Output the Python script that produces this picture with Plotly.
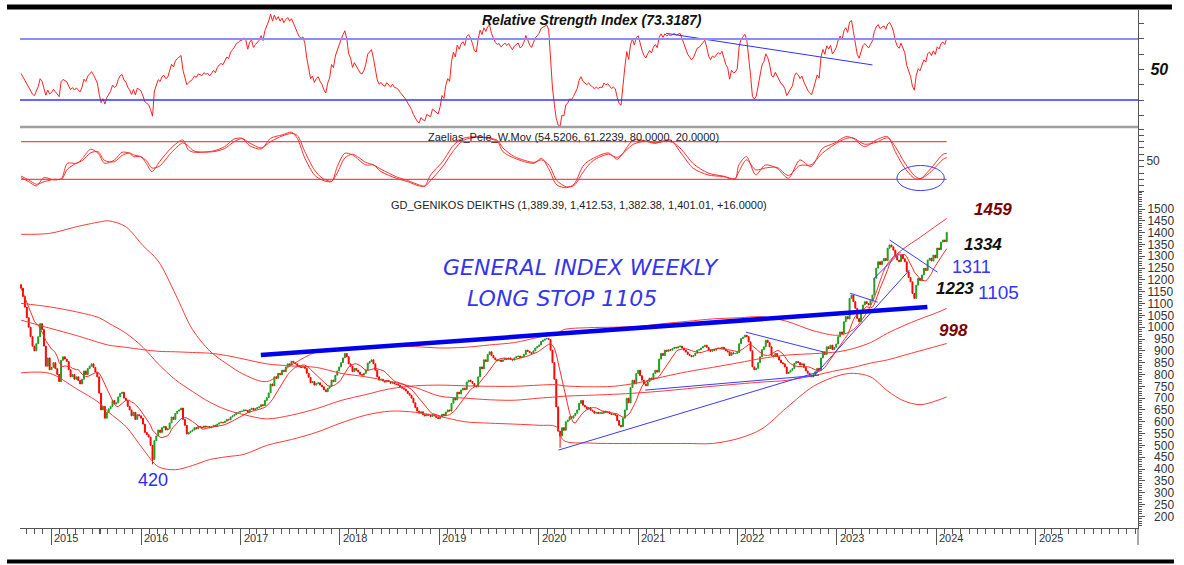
import pandas as pd
import plotly.graph_objects as go

# ---------------- DATA ----------------
seg_starts = ["2014-09-12", "2015-01-02", "2015-08-07", "2016-01-01", "2017-01-06", "2018-01-05",
              "2019-01-04", "2020-01-03", "2021-01-01", "2022-01-07", "2023-01-06", "2024-01-05"]
closes_2014 = [1165, 1130, 1085, 1040, 1000, 960, 920, 900, 930, 960, 1015, 990, 920, 835, 870, 820]
closes_2015a = [830, 850, 825, 800, 770, 860, 875, 865, 855, 820, 790, 800, 780, 790, 775, 760, 780, 815, 800,
                825, 835, 845, 830, 810, 790, 721]
closes_2015b = [650, 665, 615, 640, 655, 665, 690, 675, 680, 705, 720, 725, 700, 690, 665, 650, 625, 640, 610,
                630, 625]
closes_2016 = [615, 590, 555, 545, 535, 500, 440, 520, 540, 565, 555, 575, 580, 565, 570, 595, 620, 610, 635, 645,
               650, 658, 610, 585, 548, 555, 560, 565, 575, 570, 580, 578, 575, 582, 578, 580, 574, 579, 585, 580,
               590, 595, 598, 596, 602, 610, 608, 620, 625, 630, 638, 640, 644]
closes_2017 = [645, 650, 648, 640, 652, 657, 650, 655, 660, 663, 672, 668, 690, 702, 722, 760, 752, 790, 784, 805,
               799, 818, 812, 832, 845, 840, 856, 850, 845, 838, 832, 830, 834, 826, 805, 788, 765, 770, 755, 762,
               765, 755, 748, 735, 727, 742, 750, 776, 770, 797, 815, 832]
closes_2018 = [850, 870, 889, 875, 845, 835, 812, 826, 818, 810, 800, 797, 805, 820, 848, 855, 862, 845, 818, 790,
               776, 780, 772, 768, 775, 770, 763, 768, 760, 758, 755, 748, 742, 738, 730, 720, 712, 700, 680, 660,
               645, 636, 642, 630, 625, 632, 628, 622, 630, 625, 618, 613]
closes_2019 = [620, 632, 625, 641, 650, 645, 678, 700, 692, 725, 718, 734, 742, 736, 768, 776, 770, 762, 750, 748,
               790, 832, 824, 862, 855, 885, 896, 880, 870, 862, 858, 861, 855, 862, 868, 864, 870, 865, 861, 870,
               875, 878, 872, 875, 885, 903, 898, 892, 889, 900, 912, 918]
closes_2020 = [925, 940, 945, 950, 952, 948, 903, 850, 780, 663, 560, 540, 575, 564, 600, 607, 621, 615, 625, 636,
               650, 678, 690, 670, 663, 655, 660, 649, 645, 636, 640, 635, 638, 636, 645, 640, 642, 635, 630, 632,
               628, 605, 585, 579, 615, 650, 700, 680, 745, 776, 760, 804]
closes_2021 = [818, 795, 776, 760, 752, 770, 785, 778, 805, 818, 810, 865, 889, 880, 903, 898, 905, 903, 910, 915,
               912, 917, 920, 912, 903, 895, 885, 880, 875, 880, 890, 903, 905, 912, 918, 924, 915, 903, 898, 905,
               903, 908, 912, 910, 915, 908, 900, 896, 880, 892, 888, 889, 893]
closes_2022 = [930, 952, 958, 966, 960, 938, 900, 832, 820, 826, 850, 875, 905, 917, 945, 935, 917, 880, 875, 889,
               875, 861, 850, 845, 832, 804, 810, 818, 825, 847, 855, 850, 840, 845, 830, 815, 805, 797, 790, 800,
               812, 826, 818, 870, 896, 885, 917, 910, 924, 905, 915, 929]
closes_2023 = [960, 980, 972, 1023, 1045, 1035, 1122, 1136, 1108, 1080, 1037, 1023, 1060, 1094, 1108, 1100, 1094,
               1115, 1136, 1207, 1250, 1277, 1265, 1280, 1291, 1282, 1334, 1348, 1340, 1326, 1300, 1284, 1277, 1305,
               1290, 1277, 1235, 1210, 1192, 1143, 1122, 1178, 1207, 1198, 1221, 1249, 1240, 1284, 1292, 1280, 1305,
               1293]
closes_2024 = [1335, 1328, 1360, 1369, 1362, 1401.01]
first_open = 1180
wick_dates = ["2016-02-12", "2020-03-20"]
wick_lows = [420, 490]

# Bollinger (104w) and long moving average
env_dates = ["2014-09-12", "2014-12-26", "2015-04-03", "2015-06-26", "2015-09-04", "2015-11-06", "2016-01-08",
             "2016-03-04", "2016-05-06", "2016-07-08", "2016-09-09", "2016-11-11", "2017-01-13", "2017-04-07",
             "2017-07-07", "2017-10-06", "2018-01-05", "2018-04-06", "2018-07-06", "2018-10-05", "2019-01-04",
             "2019-04-05", "2019-07-05", "2019-10-04", "2020-01-03", "2020-03-06", "2020-04-03", "2020-07-03",
             "2020-10-02", "2021-01-01", "2021-04-02", "2021-07-02", "2021-10-01", "2022-01-07", "2022-04-01",
             "2022-07-01", "2022-10-07", "2023-01-06", "2023-03-03", "2023-05-05", "2023-07-07", "2023-09-01",
             "2023-11-03", "2024-01-05", "2024-02-09"]
bb_upper = [1393, 1397, 1425, 1445, 1450, 1425, 1345, 1280, 1140, 990, 900, 845, 800, 770, 840, 895, 910, 915, 920,
            918, 912, 915, 925, 935, 958, 972, 990, 998, 1000, 1003, 1015, 1025, 1035, 1040, 1044, 1025, 985, 966,
            990, 1090, 1270, 1330, 1380, 1432, 1460]
bb_mid = [1101, 1086, 1065, 1040, 1017, 975, 915, 845, 778, 728, 683, 650, 630, 612, 628, 655, 690, 715, 740, 752,
          755, 752, 750, 750, 755, 757, 752, 748, 750, 765, 790, 812, 830, 850, 868, 882, 888, 896, 910, 935, 975,
          1005, 1035, 1062, 1080]
bb_lower = [807, 805, 740, 680, 640, 580, 485, 410, 397, 415, 440, 452, 462, 500, 525, 555, 595, 628, 645, 640, 622,
            600, 594, 590, 585, 579, 520, 510, 508, 508, 508, 508, 508, 530, 570, 660, 750, 795, 805, 790, 730, 690,
            672, 690, 705]
long_ma = [1030, 996, 965, 935, 924, 915, 905, 898, 896, 893, 890, 880, 865, 845, 836, 830, 805, 790, 770, 745, 708,
           700, 693, 691, 700, 705, 708, 712, 716, 722, 730, 740, 750, 760, 768, 775, 795, 818, 830, 848, 862, 880,
           900, 920, 931]
fast_ma_weeks = 10
rsi_period = 14
rsi_seed_gain = 27
rsi_seed_loss = 30

# Zaelias_Pele W.Mov oscillator (two lines)
osc_dates = ["2014-09-12", "2014-10-10", "2014-11-07", "2014-12-05", "2015-01-12", "2015-02-08", "2015-03-01",
             "2015-04-05", "2015-04-26", "2015-05-25", "2015-06-22", "2015-08-20", "2015-09-25", "2015-10-23",
             "2015-11-20", "2015-12-04", "2015-12-31", "2016-01-20", "2016-02-10", "2016-03-09", "2016-04-20",
             "2016-06-02", "2016-06-23", "2016-07-14", "2016-09-22", "2016-11-03", "2016-12-08", "2017-01-06",
             "2017-02-03", "2017-03-17", "2017-04-21", "2017-06-02", "2017-07-07", "2017-07-28", "2017-08-25",
             "2017-09-29", "2017-10-27", "2017-12-01", "2017-12-22", "2018-01-19", "2018-02-16", "2018-04-06",
             "2018-05-04", "2018-06-01", "2018-07-27", "2018-09-07", "2018-10-19", "2018-11-09", "2018-11-30",
             "2019-01-13", "2019-02-23", "2019-03-30", "2019-05-18", "2019-06-30", "2019-08-03", "2019-08-23",
             "2019-10-05", "2019-12-15", "2020-01-12", "2020-02-09", "2020-03-08", "2020-04-12", "2020-05-10",
             "2020-06-15", "2020-07-20", "2020-09-14", "2020-10-16", "2020-12-15", "2021-02-04", "2021-03-03",
             "2021-04-29", "2021-06-08", "2021-07-22", "2021-09-15", "2021-11-10", "2021-12-23", "2022-01-06",
             "2022-02-03", "2022-03-09", "2022-04-13", "2022-05-26", "2022-07-07", "2022-08-18", "2022-09-28",
             "2022-11-10", "2022-12-22", "2023-02-03", "2023-03-02", "2023-04-13", "2023-05-26", "2023-07-07",
             "2023-08-04", "2023-09-08", "2023-10-13", "2023-11-03", "2023-12-08", "2024-01-27", "2024-02-09"]
osc_fast = [22.6, 16.2, 9.3, 22.6, 18.9, 21.6, 45.5, 45.5, 53.5, 67.9, 61.5, 45.5, 50.8, 63.1, 61.5, 56.1, 56.1,
            45.5, 32.1, 48.1, 69.5, 82.7, 66.8, 63.1, 65.2, 72.0, 84.3, 85.4, 73.6, 68.4, 85.4, 90.7, 95.0, 85.4,
            53.5, 26.9, 18.9, 16.2, 40.2, 61.5, 58.8, 42.8, 42.8, 32.1, 21.6, 16.2, 9.3, 9.3, 26.9, 48.1, 74.7,
            85.4, 88.0, 85.4, 80.0, 64.0, 53.5, 45.5, 53.5, 34.9, 10.9, 6.6, 12.1, 42.8, 53.5, 62.0, 52.0, 82.7,
            80.0, 77.4, 82.7, 61.5, 37.6, 26.9, 24.2, 20.0, 42.8, 56.1, 26.9, 42.8, 37.6, 21.6, 50.8, 40.2, 69.5,
            77.4, 88.0, 85.4, 72.0, 82.7, 88.0, 64.0, 37.6, 21.6, 20.5, 34.9, 60.0, 61.2]
osc_slow = [25, 19, 12, 16, 20, 20, 36, 46, 50, 62, 64, 50, 48, 58, 62, 59, 56, 50, 38, 41, 62, 78, 73, 65, 64, 69,
            80, 85, 78, 70, 80, 89, 93, 90, 64, 35, 22, 17, 30, 54, 60, 47, 43, 36, 24, 18, 11, 9, 18, 40, 66, 82,
            87, 86, 82, 70, 56, 47, 51, 42, 18, 8, 10, 33, 50, 60, 55, 76, 81, 78, 81, 68, 45, 30, 25, 21, 32, 51,
            35, 38, 39, 26, 42, 43, 62, 75, 85, 86, 76, 79, 86, 72, 46, 26, 21, 30, 52, 54.5]
osc_upper_level = 80
osc_lower_level = 20
osc_circle_x = ["2023-08-10", "2024-01-31"]
osc_circle_y = [2, 42]
rsi_upper_level = 70
rsi_lower_level = 30
rsi_trend_x = ["2021-04-14", "2023-05-12"]
rsi_trend_y = [73.7, 53]

# analyst trend lines on the price panel
longstop_x = ["2017-03-16", "2023-11-30"]
longstop_y = [882, 1085]
trend_x0 = ["2020-03-14", "2021-01-27", "2022-02-01", "2022-10-05", "2023-02-18", "2023-05-16", "2023-07-14"]
trend_y0 = [480, 734, 979, 789, 1144, 1204, 1369]
trend_x1 = ["2022-10-23", "2022-10-28", "2022-11-14", "2023-09-25", "2023-05-31", "2023-08-23", "2024-01-06"]
trend_y1 = [810, 797, 895, 1242, 1106, 1318, 1233]

year_labels = [str(y) for y in range(2015, 2026)]
price_ticks = list(range(200, 1501, 50))

# ---------------- BUILD ----------------
seg_closes = [closes_2014, closes_2015a, closes_2015b, closes_2016, closes_2017, closes_2018, closes_2019,
              closes_2020, closes_2021, closes_2022, closes_2023, closes_2024]
dates, closes = [], []
for s, vals in zip(seg_starts, seg_closes):
    dates += list(pd.date_range(s, periods=len(vals), freq="7D"))
    closes += list(vals)
opens = [first_open] + closes[:-1]
highs = [max(o, c) for o, c in zip(opens, closes)]
lows = [min(o, c) for o, c in zip(opens, closes)]
dstr = [d.strftime("%Y-%m-%d") for d in dates]
for wd, wl in zip(wick_dates, wick_lows):
    if wd in dstr:
        lows[dstr.index(wd)] = wl

fast_ma = pd.Series(closes).rolling(fast_ma_weeks, min_periods=1).mean().tolist()

g, l = float(rsi_seed_gain), float(rsi_seed_loss)
rsi = [100 * g / (g + l)]
for i in range(1, len(closes)):
    ch = closes[i] - closes[i - 1]
    g = (g * (rsi_period - 1) + max(ch, 0)) / rsi_period
    l = (l * (rsi_period - 1) + max(-ch, 0)) / rsi_period
    rsi.append(100 - 100 / (1 + g / l))

FONT = "Liberation Sans"
RED = "#ff3a3a"
fig = go.Figure()

# RSI panel
fig.add_trace(go.Scatter(x=dates, y=rsi, mode="lines", line=dict(color="#ff2020", width=1), xaxis="x", yaxis="y3"))
fig.add_trace(go.Scatter(x=rsi_trend_x, y=rsi_trend_y, mode="lines", line=dict(color="#3030ff", width=1),
                         xaxis="x", yaxis="y3"))

# Oscillator panel
for lvl in (osc_upper_level, osc_lower_level):
    fig.add_trace(go.Scatter(x=[dates[0], dates[-1]], y=[lvl, lvl], mode="lines",
                             line=dict(color="#ff4a4a", width=1.2), xaxis="x", yaxis="y2"))
fig.add_trace(go.Scatter(x=osc_dates, y=osc_slow, mode="lines", line=dict(color="#ff3030", width=1, shape="spline",
                                                                              smoothing=0.8), xaxis="x", yaxis="y2"))
fig.add_trace(go.Scatter(x=osc_dates, y=osc_fast, mode="lines", line=dict(color="#ff3030", width=1, shape="spline",
                                                                              smoothing=0.8), xaxis="x", yaxis="y2"))

# Price panel
fig.add_trace(go.Candlestick(x=dates, open=opens, high=highs, low=lows, close=closes, xaxis="x", yaxis="y",
                             whiskerwidth=0,
                             increasing=dict(line=dict(color="#1e9e1e", width=1), fillcolor="#1e9e1e"),
                             decreasing=dict(line=dict(color="#ff0000", width=1), fillcolor="#ff0000")))
for series in (bb_upper, bb_mid, bb_lower, long_ma):
    fig.add_trace(go.Scatter(x=env_dates, y=series, mode="lines",
                             line=dict(color=RED, width=1, shape="spline", smoothing=0.9), xaxis="x", yaxis="y"))
fig.add_trace(go.Scatter(x=dates, y=fast_ma, mode="lines", line=dict(color="#ff2a2a", width=1), xaxis="x", yaxis="y"))
tx, ty = [], []
for a, b, c, d in zip(trend_x0, trend_y0, trend_x1, trend_y1):
    tx += [a, c, None]
    ty += [b, d, None]
fig.add_trace(go.Scatter(x=tx, y=ty, mode="lines", line=dict(color="#3a3aff", width=1), xaxis="x", yaxis="y"))
fig.add_trace(go.Scatter(x=longstop_x, y=longstop_y, mode="lines", line=dict(color="#0000ee", width=4.5),
                         xaxis="x", yaxis="y"))

# ---------------- LAYOUT ----------------
W, H = 1184, 565
ML, MR, MT, MB = 20, 44, 10, 37
PW, PH = W - ML - MR, H - MT - MB


def px(xp):
    return (xp - ML) / PW


def py(yp):
    return (H - MB - yp) / PH


d_rsi = [py(127), 1.0]
d_osc = [py(192), py(127)]
d_main = [0.0, py(192)]

axis_common = dict(side="right", anchor="x", showline=True, linecolor="#555", linewidth=1, showgrid=False,
                   zeroline=False, ticks="outside", tickcolor="#555", fixedrange=True)

price_text = [("\u2007" + str(v)) if v < 1000 else str(v) for v in price_ticks]

fig.update_layout(
    width=W, height=H, margin=dict(l=ML, r=MR, t=MT, b=MB),
    paper_bgcolor="white", plot_bgcolor="white", showlegend=False,
    font=dict(family=FONT, color="#222"),
    xaxis=dict(type="date", domain=[0, 1], anchor="y", range=["2014-09-08", "2026-01-12"],
               rangebreaks=[dict(bounds=["2015-06-30", "2015-08-04"])],
               rangeslider=dict(visible=False), showgrid=False, zeroline=False,
               showline=True, linecolor="#555", ticks="outside", ticklen=16, tickcolor="#555",
               tickvals=[f"{y}-01-01" for y in year_labels], showticklabels=False,
               minor=dict(dtick="M1", tick0="2015-01-01", ticks="outside", ticklen=5, tickcolor="#555")),
    yaxis=dict(domain=d_main, range=[150.5, 1572], tickvals=price_ticks, ticktext=price_text, ticklen=6,
               tickfont=dict(size=12, color="#333", family=FONT),
               minor=dict(dtick=10, tick0=0, ticks="outside", ticklen=3, tickcolor="#555"), **axis_common),
    yaxis2=dict(domain=d_osc, range=[-0.3, 103.4], tickvals=list(range(0, 101, 10)),
                ticktext=["" if v != 50 else "50" for v in range(0, 101, 10)], ticklen=5,
                tickfont=dict(size=12, color="#333", family=FONT), **axis_common),
    yaxis3=dict(domain=d_rsi, range=[12.3, 89.0], tickvals=list(range(20, 81, 10)),
                ticktext=["" if v != 50 else "\u200950" for v in range(20, 81, 10)], ticklen=5,
                tickfont=dict(size=16, color="#111", family=FONT, weight="bold", style="italic"), **axis_common),
)

shapes = [
    dict(type="rect", xref="paper", yref="paper", x0=px(7), x1=px(1174), y0=py(9.5), y1=py(4.5),
         fillcolor="black", line=dict(width=0)),
    dict(type="rect", xref="paper", yref="paper", x0=px(7), x1=px(1176), y0=py(563.5), y1=py(559.5),
         fillcolor="black", line=dict(width=0)),
    dict(type="line", xref="paper", yref="paper", x0=0, x1=1, y0=py(127), y1=py(127),
         line=dict(color="#a0a0a0", width=2.5)),
    dict(type="line", xref="paper", yref="paper", x0=1, x1=1, y0=0, y1=py(545), line=dict(color="#555", width=1)),
    dict(type="line", xref="paper", yref="y3", x0=0, x1=1, y0=rsi_upper_level, y1=rsi_upper_level,
         line=dict(color="#8c8cff", width=2)),
    dict(type="line", xref="paper", yref="y3", x0=0, x1=1, y0=rsi_lower_level, y1=rsi_lower_level,
         line=dict(color="#3535ff", width=1.5)),
    dict(type="circle", xref="x", yref="y2", x0=osc_circle_x[0], x1=osc_circle_x[1], y0=osc_circle_y[0],
         y1=osc_circle_y[1], line=dict(color="#3a3aff", width=1)),
]
fig.update_layout(shapes=shapes)

ann = []
for y in year_labels:
    ann.append(dict(xref="x", yref="paper", x=f"{y}-01-01", y=py(538), text=y, showarrow=False, xanchor="left",
                    yanchor="middle", xshift=1, font=dict(size=11, color="#333", family=FONT)))


def txt(t, xp, yp, size, color, bold=False, italic=False, xanchor="center", family=FONT, weight=None):
    ann.append(dict(xref="paper", yref="paper", x=px(xp), y=py(yp), text=t, showarrow=False, xanchor=xanchor,
                    yanchor="middle",
                    font=dict(size=size, color=color, family=family,
                              weight=weight if weight else ("bold" if bold else "normal"),
                              style="italic" if italic else "normal")))


txt("Relative Strength Index (73.3187)", 593, 20, 14, "#111", bold=True, italic=True)
txt("Zaelias_Pele_W.Mov (54.5206, 61.2239, 80.0000, 20.0000)", 722, 137, 11, "#222", xanchor="right")
txt("GD_GENIKOS DEIKTHS (1,389.39, 1,412.53, 1,382.38, 1,401.01, +16.0000)", 580, 205, 11, "#222")
txt("GENERAL INDEX WEEKLY", 582, 267, 22, "#3535ec", italic=True, family="DejaVu Sans", weight=200)
txt("LONG STOP 1105", 563, 298, 22, "#3535ec", italic=True, family="DejaVu Sans", weight=200)
txt("1459", 995, 209, 17, "#7a0000", bold=True, italic=True)
txt("1334", 985, 244, 17, "#111", bold=True, italic=True)
txt("1311", 973, 267, 18, "#3535ff")
txt("1223", 957, 289, 17, "#111", bold=True, italic=True)
txt("1105", 1000, 292, 19, "#3535ff")
txt("998", 955, 330, 17, "#7a0000", bold=True, italic=True)
txt("420", 153, 480, 18, "#2a2aff")
fig.update_layout(annotations=ann)

fig.write_html("out.html", config={"displayModeBar": False},
               post_script="document.body.style.margin='0';document.body.style.overflow='hidden';")
